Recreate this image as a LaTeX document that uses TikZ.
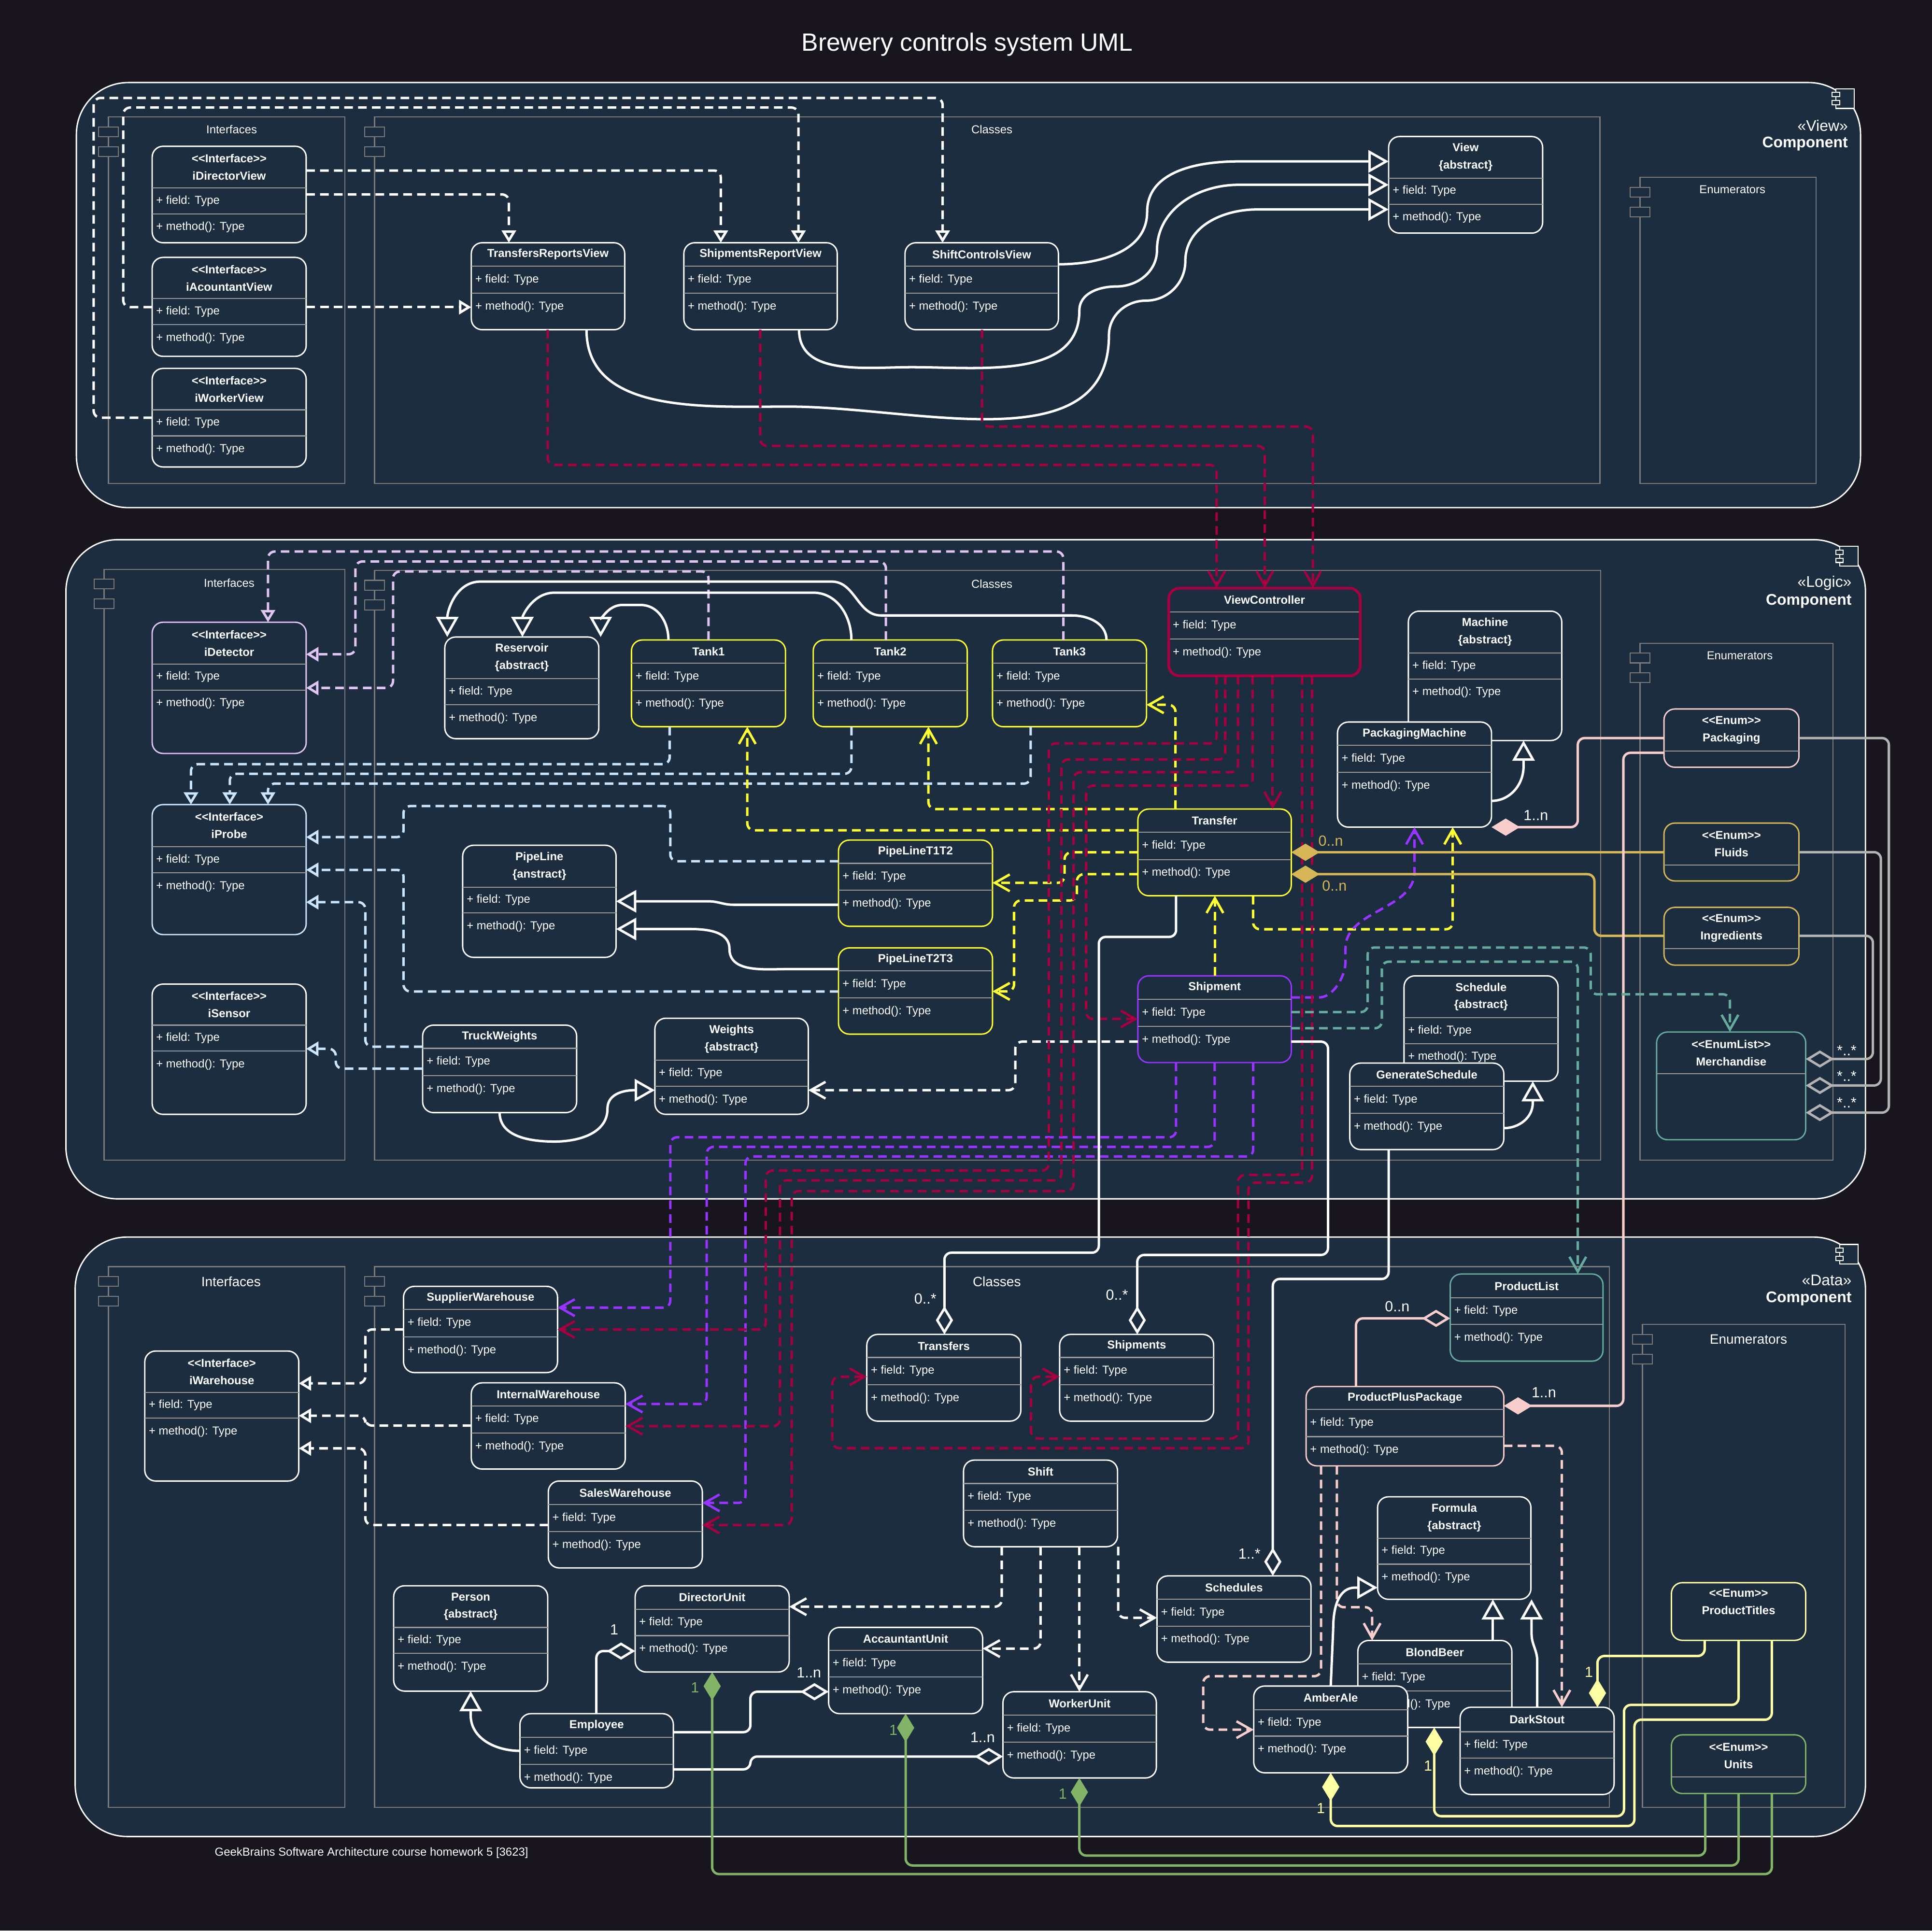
\documentclass[tikz,border=0pt]{standalone}
\usepackage{fontspec}
\setmainfont{Liberation Sans}
\usetikzlibrary{arrows.meta,fit}

\definecolor{bgdark}{HTML}{18151E}
\definecolor{panelbg}{HTML}{1B2D3E}
\definecolor{framegray}{HTML}{7A7A7A}
\definecolor{sepgray}{HTML}{9A9A9A}
\definecolor{crim}{HTML}{A50040}
\definecolor{yel}{HTML}{FFFF33}
\definecolor{purp}{HTML}{9933FF}
\definecolor{lav}{HTML}{E0C4F4}
\definecolor{lblue}{HTML}{CCE5FF}
\definecolor{goldc}{HTML}{D6B656}
\definecolor{pinkc}{HTML}{F8CECC}
\definecolor{tealc}{HTML}{67AB9F}
\definecolor{greenc}{HTML}{82B366}
\definecolor{lyel}{HTML}{FFFFA6}
\definecolor{grayc}{HTML}{B3B3B3}

\newcommand{\boxfont}{\fontsize{6.65}{10}\selectfont}
\newcommand{\stOpen}{<\kern0pt<}
\newcommand{\stClose}{>\kern0pt>}

% class box: [colour]{name}{left}{top}{right}{bottom}{header line}{row line}{title}
\newcommand{\umlclass}[9][white]{%
  \node[classbox, draw=#1, fit={(#3,#4) (#5,#6)}] (#2) {};
  \draw[sepline] (#3,#7) -- (#5,#7) (#3,#8) -- (#5,#8);
  \node[clstitle] (#2-t) at ({(#3+#5)/2},{(#4+#7)/2}) {#9};
  \node[member] (#2-f) at ({#3+3},{(#7+#8)/2}) {+ field: Type};
  \node[member] (#2-m) at ({#3+3},{#8+11}) {+ method(): Type};
}
% enum box: [colour]{name}{left}{top}{right}{bottom}{header line}{title}
\newcommand{\umlenum}[8][white]{%
  \node[classbox, draw=#1, fit={(#3,#4) (#5,#6)}] (#2) {};
  \draw[sepline] (#3,#7) -- (#5,#7);
  \node[clstitle] (#2-t) at ({(#3+#5)/2},{(#4+#7)/2}) {#8};
}
\newcommand{\ports}[2]{%
  \draw[port] ({#1-8},{#2+8}) rectangle ({#1+8},{#2+16});
  \draw[port] ({#1-8},{#2+24}) rectangle ({#1+8},{#2+32});
}
\newcommand{\compicon}[2]{%
  \draw[white, line width=0.6pt, fill=panelbg] (#1,#2) rectangle ++(15,16);
  \draw[white, line width=0.6pt, fill=panelbg] ({#1-3},{#2+3}) rectangle ++(6,3.5);
  \draw[white, line width=0.6pt, fill=panelbg] ({#1-3},{#2+9.5}) rectangle ++(6,3.5);
}

\begin{document}
\begin{tikzpicture}[x=0.025cm, y=-0.025cm,
    panel/.style={draw=white, line width=0.8pt, fill=panelbg, rounded corners=1.05cm},
    frame/.style={draw=framegray, line width=0.6pt},
    port/.style={draw=framegray, line width=0.6pt, fill=panelbg},
    classbox/.style={draw=white, line width=0.8pt, fill=panelbg, rounded corners=0.22cm, inner sep=0pt, outer sep=0pt},
    sepline/.style={draw=sepgray, line width=0.6pt},
    clstitle/.style={font=\bfseries\boxfont, align=center, text=white, inner sep=0pt},
    member/.style={font=\boxfont, anchor=west, text=white, inner sep=0pt},
    framelabel/.style={font=\fontsize{6.65}{8}\selectfont, text=white},
    biglabel/.style={font=\fontsize{7.8}{9}\selectfont, text=white},
    stereo/.style={anchor=east, font=\fontsize{8.9}{10}\selectfont, text=white, inner sep=0pt},
    mult/.style={font=\fontsize{8.5}{10}\selectfont, text=white, inner sep=0pt},
    conn/.style={white, line width=1.4pt, rounded corners=4pt},
    dashline/.style={dash pattern=on 5pt off 3pt},
    realize/.style={conn, dashline, -{Triangle[open, length=0.25cm, width=0.29cm]}},
    depend/.style={conn, dashline, -{Straight Barb[length=0.3cm, width=0.34cm]}},
    inherit/.style={white, line width=1.4pt, -{Triangle[open, length=0.41cm, width=0.45cm]}},
    aggreg/.style={conn, {Diamond[open, length=0.575cm, width=0.35cm]}-},
    compos/.style={conn, {Diamond[length=0.575cm, width=0.35cm]}-}]

  \fill[bgdark] (0,0) rectangle (1568,1567);
  \useasboundingbox (0,0) rectangle (1568,1567);

  \node[font=\fontsize{14.4}{17}\selectfont, text=white] (title) at (785,36) {Brewery controls system UML};
  \node[font=\fontsize{6.67}{8}\selectfont, text=white] (footer) at (301.5,1504) {GeekBrains Software Architecture course homework 5 [3623]};

  % component panels
  \draw[panel] (62,67) rectangle (1510,412);
  \draw[panel] (53.5,438) rectangle (1514,973);
  \draw[panel] (61,1004) rectangle (1514,1490.5);
  \compicon{1490}{72}
  \compicon{1493}{443.5}
  \compicon{1493}{1010}
  \node[stereo] (viewst) at (1500,102) {«View»};
  \node[stereo, font=\bfseries\fontsize{8.9}{10}\selectfont] (viewcp) at (1500,116.5) {Component};
  \node[stereo] (logicst) at (1503,473.2) {«Logic»};
  \node[stereo, font=\bfseries\fontsize{8.9}{10}\selectfont] (logiccp) at (1503,487.9) {Component};
  \node[stereo] (datast) at (1503,1039) {«Data»};
  \node[stereo, font=\bfseries\fontsize{8.9}{10}\selectfont] (datacp) at (1503,1054) {Component};

  % frames
  \draw[frame] (88,95) rectangle (280,392.5);
  \draw[frame] (304,95) rectangle (1298.5,392.5);
  \draw[frame] (1331,144) rectangle (1474,392.5);
  \draw[frame] (84.5,462) rectangle (280,941.5);
  \draw[frame] (304,463) rectangle (1299,941.5);
  \draw[frame] (1331,522) rectangle (1487.5,941.5);
  \draw[frame] (88,1028) rectangle (280,1467);
  \draw[frame] (304,1028) rectangle (1306,1467);
  \draw[frame] (1333,1075) rectangle (1497.5,1467);
  \ports{88}{95}
  \ports{304}{95}
  \ports{1331}{144}
  \ports{84.5}{462}
  \ports{304}{463}
  \ports{1331}{522}
  \ports{88}{1028}
  \ports{304}{1028}
  \ports{1333}{1075}
  \node[framelabel] (fl1) at (188,105) {Interfaces};
  \node[framelabel] (fl2) at (805,105) {Classes};
  \node[framelabel] (fl3) at (1406,154) {Enumerators};
  \node[framelabel] (fl4) at (186,473) {Interfaces};
  \node[framelabel] (fl5) at (805,474) {Classes};
  \node[framelabel] (fl6) at (1412,532) {Enumerators};
  \node[biglabel] (fl7) at (187.5,1040) {Interfaces};
  \node[biglabel] (fl8) at (809,1040) {Classes};
  \node[biglabel] (fl9) at (1419,1087) {Enumerators};

  % view classes
  \umlclass{idv}{123.5}{118.7}{248.5}{197}{152.6}{173.5}{\stOpen Interface\stClose\\iDirectorView}
  \umlclass{iav}{123.5}{208.9}{248.5}{289.2}{242.4}{263.5}{\stOpen Interface\stClose\\iAcountantView}
  \umlclass{iwv}{123.5}{299}{248.5}{379}{332.6}{353.8}{\stOpen Interface\stClose\\iWorkerView}
  \umlclass{trv}{382.5}{197}{507}{267.6}{216}{238}{TransfersReportsView}
  \umlclass{srv}{555}{197}{679.5}{267.6}{216}{238}{ShipmentsReportView}
  \umlclass{scv}{734.5}{197}{859}{267.6}{216}{238}{ShiftControlsView}
  \umlclass{view}{1127}{110.8}{1252}{189.2}{144.5}{165.7}{View\\\{abstract\}}

  % logic classes
  \umlclass[lav]{idet}{123.5}{505}{248.5}{611.5}{539}{560}{\stOpen Interface\stClose\\iDetector}
  \umlclass[lblue]{iprobe}{123.5}{653}{248.5}{758.5}{687}{708.4}{\stOpen Interface>\\iProbe}
  \umlclass{isen}{123.5}{798.7}{248.5}{904.4}{832}{853}{\stOpen Interface\stClose\\iSensor}
  \umlclass{res}{361}{517}{486}{599.5}{550.6}{572}{Reservoir\\\{abstract\}}
  \umlclass[yel]{tank1}{512.5}{519.4}{637.5}{589.8}{538.3}{560.4}{Tank1}
  \umlclass[yel]{tank2}{660}{519.4}{785}{589.8}{538.3}{560.4}{Tank2}
  \umlclass[yel]{tank3}{805.5}{519.4}{930.5}{589.8}{538.3}{560.4}{Tank3}
  \umlclass{pl}{375.5}{686}{500}{777}{720}{741}{PipeLine\\\{anstract\}}
  \umlclass[yel]{pl12}{680.5}{681.8}{805.5}{751.8}{700.7}{722.4}{PipeLineT1T2}
  \umlclass[yel]{pl23}{680.5}{769.3}{805.5}{839.3}{788}{810}{PipeLineT2T3}
  \umlclass{tw}{343}{832}{468}{903}{850.8}{872.9}{TruckWeights}
  \umlclass{weights}{531.5}{826.4}{656}{904.4}{860.3}{881.6}{Weights\\\{abstract\}}
  \umlclass[crim]{vc}{948.5}{477.4}{1104}{548.5}{496.6}{518.7}{ViewController}
  \draw[crim, line width=1.6pt, rounded corners=0.22cm] (vc.north west) rectangle (vc.south east);
  \umlclass{mach}{1143}{496}{1267.5}{601}{530}{551}{Machine\\\{abstract\}}
  \umlclass{pm}{1085.5}{586}{1210.5}{671.3}{604.8}{626.9}{PackagingMachine}
  \umlclass[yel]{tr}{923.5}{656.6}{1048}{727}{675.5}{697.6}{Transfer}
  \umlclass[purp]{ship}{923.5}{792}{1048}{862.4}{811}{833}{Shipment}
  \umlclass{sched}{1139.5}{792}{1264.5}{877.5}{826}{847}{Schedule\\\{abstract\}}
  \umlclass{gs}{1095.5}{862.8}{1220.5}{933}{881.7}{903.7}{GenerateSchedule}
  \umlenum[pinkc]{packg}{1350.5}{575.4}{1460}{622.7}{609.7}{\stOpen Enum\stClose\\Packaging}
  \umlenum[goldc]{fluids}{1350.5}{668}{1460}{715}{702}{\stOpen Enum\stClose\\Fluids}
  \umlenum[goldc]{ingr}{1350.5}{736.4}{1460}{783.3}{770}{\stOpen Enum\stClose\\Ingredients}
  \umlenum[tealc]{merch}{1344.5}{837.6}{1465.5}{925}{871.5}{\stOpen EnumList\stClose\\Merchandise}

  % data classes
  \umlclass{iwh}{117.5}{1096.5}{242.5}{1202}{1130}{1151}{\stOpen Interface>\\iWarehouse}
  \umlclass{sw}{327.5}{1044}{452.5}{1114}{1062.8}{1085}{SupplierWarehouse}
  \umlclass{iw}{382.5}{1122.3}{507.5}{1192.3}{1141}{1163}{InternalWarehouse}
  \umlclass{saw}{445}{1202}{570}{1272.5}{1221}{1243}{SalesWarehouse}
  \umlclass{person}{319.5}{1287}{444.5}{1372.5}{1320.8}{1341.8}{Person\\\{abstract\}}
  \umlclass{du}{515.5}{1287}{640.5}{1357}{1306}{1327.5}{DirectorUnit}
  \umlclass{au}{672.5}{1320.8}{797.5}{1390.8}{1339.5}{1361}{AccauntantUnit}
  \umlclass{emp}{422}{1390.8}{546.5}{1451}{1410}{1432}{Employee}
  \umlclass{tfs}{703.5}{1083}{828.5}{1153.4}{1101.7}{1123.8}{Transfers}
  \umlclass{shps}{860}{1083}{985}{1153.4}{1101.7}{1123.8}{Shipments}
  \umlclass{shift}{782}{1185}{907}{1255.3}{1204}{1225.7}{Shift}
  \umlclass{scheds}{939}{1279}{1064}{1349}{1298}{1319.7}{Schedules}
  \umlclass{wu}{814}{1373}{938.5}{1443}{1392}{1414}{WorkerUnit}
  \umlclass[tealc]{plist}{1177}{1034}{1301}{1104.7}{1053.4}{1075}{ProductList}
  \umlclass[pinkc]{ppp}{1060}{1125.3}{1220.5}{1189.7}{1144}{1166}{ProductPlusPackage}
  \umlclass{form}{1118}{1214.8}{1242.5}{1298}{1248.5}{1269.5}{Formula\\\{abstract\}}
  \umlclass{bb}{1102}{1331.4}{1227}{1402}{1350.4}{1372.4}{BlondBeer}
  \umlclass{aa}{1017.5}{1368.4}{1142.5}{1438.8}{1387.5}{1409}{AmberAle}
  \umlclass{ds}{1185}{1385.6}{1310}{1456.4}{1405.5}{1427}{DarkStout}
  \node[classbox, draw=lyel, fit={(1356.5,1284.5) (1465.5,1331.3)}] (ptitles) {};
  \node[clstitle] (ptitles-t) at (1411,1300) {\stOpen Enum\stClose\\ProductTitles};
  \umlenum[greenc]{units}{1356.5}{1408}{1465.5}{1455.6}{1442}{\stOpen Enum\stClose\\Units}

  % view connectors
  \draw[realize] (idv.east |- 0,138.4) -| (585,0 |- srv.north);
  \draw[realize] (idv.east |- 0,157.8) -| (413,0 |- trv.north);
  \draw[realize] (iav.east |- 0,249.3) -- (trv.west |- 0,249.3);
  \draw[realize] (iav.west |- 0,249.3) -- (100,249.3) |- (648,87.3) -- (648,0 |- srv.north);
  \draw[realize] (iwv.west |- 0,339) -- (76,339) |- (765,79.5) -- (765,0 |- scv.north);
  \draw[inherit] (scv.east |- 0,214.5) to[out=0,in=-90] (931,172) to[out=90,in=180] (1005,131) -- (view.west |- 0,131);
  \draw[inherit] (648.5,0 |- srv.south) to[out=-90,in=180] (740,298) to[out=0,in=-90] (876,252)
    to[out=90,in=180] (906,232.5) to[out=0,in=-90] (939,203) to[out=90,in=180] (1005,150) -- (view.west |- 0,150);
  \draw[inherit] (476,0 |- trv.south) to[out=-90,in=180] (640,330) to[out=0,in=-90] (900,272)
    to[out=90,in=180] (930,244) to[out=0,in=-90] (962,212) to[out=90,in=180] (1020,170) -- (view.west |- 0,170);
  \draw[depend, crim] (444.5,0 |- trv.south) |- (987.4,377.3) -- (987.4,0 |- vc.north);
  \draw[depend, crim] (617,0 |- srv.south) |- (1026.5,361.9) -- (1026.5,0 |- vc.north);
  \draw[depend, crim] (797,0 |- scv.south) |- (1065.5,346.2) -- (1065.5,0 |- vc.north);

  % logic connectors
  \draw[realize, lav] (863,0 |- tank3.north) |- (217.5,447.6) -- (217.5,0 |- idet.north);
  \draw[realize, lav] (719,0 |- tank2.north) |- (288.5,455.7) |- (idet.east |- 0,531);
  \draw[realize, lav] (575,0 |- tank1.north) |- (319,463.8) |- (idet.east |- 0,558.3);
  \draw[realize, lblue] (543.5,0 |- tank1.south) |- (155,620.2) -- (155,0 |- iprobe.north);
  \draw[realize, lblue] (691,0 |- tank2.south) |- (186.5,628) -- (186.5,0 |- iprobe.north);
  \draw[realize, lblue] (836.5,0 |- tank3.south) |- (217.5,636) -- (217.5,0 |- iprobe.north);
  \draw[realize, lblue] (pl12.west |- 0,699) -| (544,654.2) -| (327.5,679.4) -- (iprobe.east |- 0,679.4);
  \draw[realize, lblue] (pl23.west |- 0,804.7) -| (327.5,706) -- (iprobe.east |- 0,706);
  \draw[realize, lblue] (tw.west |- 0,849.5) -| (296.5,732.2) -- (iprobe.east |- 0,732.2);
  \draw[realize, lblue] (tw.west |- 0,867.3) -| (272.5,851.2) -- (isen.east |- 0,851.2);
  \draw[inherit] (542.5,0 |- tank1.north) to[out=90,in=0] (520,491) -- (505,491) to[out=180,in=90] (487.5,0 |- res.north);
  \draw[inherit] (691,0 |- tank2.north) to[out=90,in=0] (660,481) -- (450,481) to[out=180,in=90] (424,0 |- res.north);
  \draw[inherit] (898,0 |- tank3.north) to[out=90,in=0] (870,499.5) -- (715,499.5) to[out=180,in=0] (675,472)
    -- (390,472) to[out=180,in=90] (363,0 |- res.north);
  \draw[inherit] (pl12.west |- 0,734.3) -- (595,734.3) to[out=180,in=0] (575,731.5) -- (pl.east |- 0,731.5);
  \draw[inherit] (pl23.west |- 0,786.5) -- (640,786.5) to[out=180,in=-90] (592,770) to[out=90,in=0] (560,754) -- (pl.east |- 0,754);
  \draw[inherit] (405.5,0 |- tw.south) to[out=-90,in=180] (450,926.5) to[out=0,in=-90] (493,900) to[out=90,in=180] (weights.west |- 0,884.8);
  \draw[inherit] (pm.east |- 0,650) to[out=0,in=-90] (1236.5,622) -- (1236.5,0 |- mach.south);
  \draw[inherit] (gs.east |- 0,915.6) to[out=0,in=-90] (1244,895) -- (1244,0 |- sched.south);
  \draw[depend] (ship.west |- 0,845.4) -| (824,884.8) -- (weights.east |- 0,884.8);
  \draw[depend, yel] (954,0 |- tr.north) |- (tank3.east |- 0,572);
  \draw[depend, yel] (tr.west |- 0,656.6) -| (753.5,0 |- tank2.south);
  \draw[depend, yel] (tr.west |- 0,673.9) -| (606.5,0 |- tank1.south);
  \draw[depend, yel] (tr.west |- 0,691.7) -| (864,716.5) -- (pl12.east |- 0,716.5);
  \draw[depend, yel] (tr.west |- 0,709.5) -| (874,730.8) -| (823,804.6) -- (pl23.east |- 0,804.6);
  \draw[depend, yel] (1017,0 |- tr.south) |- (1179,754.2) -- (1179,0 |- pm.south);
  \draw[depend, yel] (986,0 |- ship.north) -- (986,0 |- tr.south);
  \draw[depend, purp] (ship.east |- 0,809.5) -- (1065,809.5) to[out=0,in=-90] (1092,775) to[out=90,in=-90] (1148,702) -- (1148,0 |- pm.south);
  \draw[depend, purp] (954.5,0 |- ship.south) |- (544,923) |- (sw.east |- 0,1061.3);
  \draw[depend, purp] (985.8,0 |- ship.south) |- (573.5,930.8) |- (iw.east |- 0,1139.5);
  \draw[depend, purp] (1017.1,0 |- ship.south) |- (605,938.6) |- (saw.east |- 0,1219.7);
  \draw[depend, crim] (987.4,0 |- vc.south) |- (851.2,603.3) |- (621.5,950) |- (sw.east |- 0,1079);
  \draw[depend, crim] (994.4,0 |- vc.south) |- (861.4,616.4) |- (633,958) |- (iw.east |- 0,1157.5);
  \draw[depend, crim] (1004.7,0 |- vc.south) |- (871.3,626.7) |- (642.5,966.7) |- (saw.east |- 0,1237.7);
  \draw[depend, crim] (1016.6,0 |- vc.south) |- (881.5,637.6) |- (ship.west |- 0,827);
  \draw[depend, crim] (1032.9,0 |- vc.south) -- (1032.9,0 |- tr.north);
  \draw[depend, crim] (1056.8,0 |- vc.south) |- (1004.7,953.6) |- (836.8,1167.5) |- (shps.west |- 0,1117.4);
  \draw[depend, crim] (1064.9,0 |- vc.south) |- (1013.3,959.8) |- (675.5,1175.3) |- (tfs.west |- 0,1117.4);
  \draw[compos, goldc] (tr.east |- 0,691.7) -- (fluids.west |- 0,691.7);
  \draw[compos, goldc] (tr.east |- 0,709.5) -| (1294,759.5) -- (ingr.west |- 0,759.5);
  \draw[compos, pinkc] (pm.east |- 0,671.3) -| (1280.5,599) -- (packg.west |- 0,599);
  \draw[compos, pinkc] (ppp.east |- 0,1141) -| (1317.5,611) -- (packg.west |- 0,611);
  \draw[aggreg, grayc] (merch.east |- 0,903) -| (1533,599) -- (packg.east |- 0,599);
  \draw[aggreg, grayc] (merch.east |- 0,881) -| (1526.5,691.6) -- (fluids.east |- 0,691.6);
  \draw[aggreg, grayc] (merch.east |- 0,859.5) -| (1520,759.5) -- (ingr.east |- 0,759.5);
  \draw[depend, tealc] (ship.east |- 0,821.4) -| (1110,769) -| (1291,807) -| (1404,0 |- merch.north);
  \draw[depend, tealc] (ship.east |- 0,834.5) -| (1121.5,780.5) -| (1280.5,0 |- plist.north);
  \draw[aggreg] (766.5,0 |- tfs.north) |- (891.8,1016.7) |- (954.5,760.4) -- (954.5,0 |- tr.south);
  \draw[aggreg] (923,0 |- shps.north) |- (1077.8,1018.5) |- (ship.east |- 0,845.4);
  \draw[aggreg] (1033,0 |- scheds.north) |- (1127,1038) -- (1127,0 |- gs.south);

  % data connectors
  \draw[realize] (sw.west |- 0,1079) -| (296.5,1122.7) -- (iwh.east |- 0,1122.7);
  \draw[realize] (iw.west |- 0,1157) -| (296.5,1149) -- (iwh.east |- 0,1149);
  \draw[realize] (saw.west |- 0,1237.7) -| (296.5,1175.5) -- (iwh.east |- 0,1175.5);
  \draw[depend] (813,0 |- shift.south) |- (du.east |- 0,1304);
  \draw[depend] (844.5,0 |- shift.south) |- (au.east |- 0,1338);
  \draw[depend] (876,0 |- shift.south) -- (876,0 |- wu.north);
  \draw[depend] (907.5,0 |- shift.south) |- (scheds.west |- 0,1313);
  \draw[aggreg] (du.west |- 0,1340) -| (484,0 |- emp.north);
  \draw[aggreg] (au.west |- 0,1373) -| (609,1405.8) -- (emp.east |- 0,1405.8);
  \draw[aggreg] (wu.west |- 0,1425.6) -| (609,1436) -- (emp.east |- 0,1436);
  \draw[inherit] (emp.west |- 0,1421) to[out=180,in=-90] (382,1392) -- (382,0 |- person.south);
  \draw[compos, greenc] (876,0 |- wu.south) |- (1384,1506) -- (1384,0 |- units.south);
  \draw[compos, greenc] (735,0 |- au.south) |- (1411,1514) -- (1411,0 |- units.south);
  \draw[compos, greenc] (578,0 |- du.south) |- (1438,1521) -- (1438,0 |- units.south);
  \draw[compos, lyel] (1296.5,0 |- ds.north) |- (1383.5,1344) -- (1383.5,0 |- ptitles.south);
  \draw[compos, lyel] (1164,0 |- bb.south) |- (1318,1474) |- (1411,1383.7) -- (1411,0 |- ptitles.south);
  \draw[compos, lyel] (1080,0 |- aa.south) |- (1326.5,1482) |- (1438,1395.7) -- (1438,0 |- ptitles.south);
  \draw[depend, pinkc] (1072.2,0 |- ppp.south) |- (976.5,1360.4) |- (aa.west |- 0,1403.8);
  \draw[depend, pinkc] (1085,0 |- ppp.south) |- (1113.6,1304.4) -- (1113.6,0 |- bb.north);
  \draw[depend, pinkc] (ppp.east |- 0,1173.4) -| (1267.6,0 |- ds.north);
  \draw[aggreg, pinkc] (plist.west |- 0,1070) -| (1100.5,0 |- ppp.north);
  \draw[inherit] (1080,0 |- aa.north) -- (1082,1322) to[out=90,in=180] (1100,1288.5) -- (form.west |- 0,1288.5);
  \draw[inherit] (1211.6,0 |- bb.north) -- (1211.6,0 |- form.south);
  \draw[inherit] (1247.6,0 |- ds.north) -- (1247.6,1348) to[out=90,in=-90] (1243,1326) -- (1243,0 |- form.south);

  % multiplicities
  \node[mult, text=goldc] (mTrFl) at (1080,682.5) {0..n};
  \node[mult, text=goldc] (mTrIn) at (1083,719) {0..n};
  \node[mult] (mPmPk) at (1246.5,661.5) {1..n};
  \node[mult] (mPpPk) at (1253,1130) {1..n};
  \node[mult] (mMe1) at (1498.8,852.6) {*..*};
  \node[mult] (mMe2) at (1498.8,873.5) {*..*};
  \node[mult] (mMe3) at (1498.8,895) {*..*};
  \node[mult] (mTfs) at (751,1054) {0..*};
  \node[mult] (mShps) at (906.5,1051) {0..*};
  \node[mult] (mScheds) at (1014,1261) {1..*};
  \node[mult] (mDu) at (498.5,1322.7) {1};
  \node[mult] (mAu) at (656.5,1357.5) {1..n};
  \node[mult] (mWu) at (797.5,1410) {1..n};
  \node[mult] (mPl) at (1134,1060.5) {0..n};
  \node[mult, text=greenc] (gWu) at (862.5,1456) {1};
  \node[mult, text=greenc] (gAu) at (725,1404) {1};
  \node[mult, text=greenc] (gDu) at (564,1369.5) {1};
  \node[mult, text=lyel] (yDs) at (1289.5,1357) {1};
  \node[mult, text=lyel] (yBb) at (1159,1433) {1};
  \node[mult, text=lyel] (yAa) at (1072,1467.6) {1};
\end{tikzpicture}
\end{document}
